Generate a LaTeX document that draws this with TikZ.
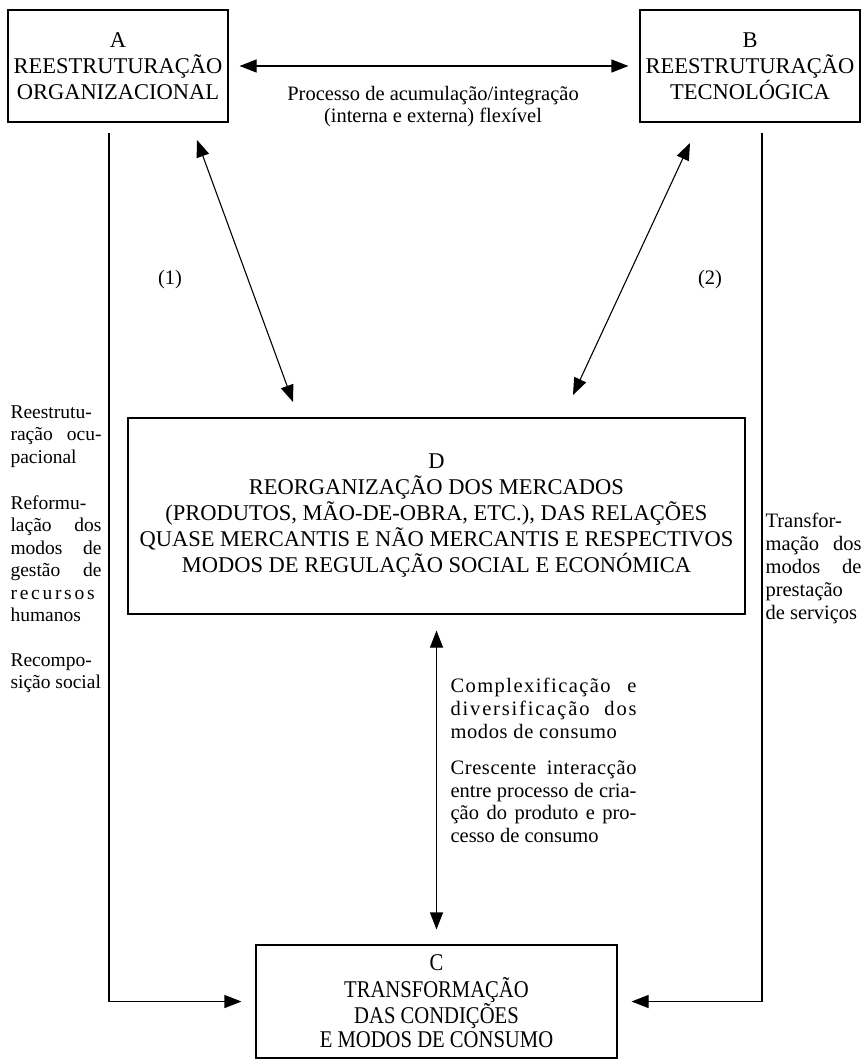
\documentclass[tikz,border=0pt]{standalone}
\usepackage{fontspec}
\setmainfont{Liberation Serif}
\newfontfamily\condfont[FakeStretch=0.86]{Liberation Serif}
\usetikzlibrary{arrows.meta}
\newcommand{\boxfont}{\fontsize{22.5}{26}\selectfont}
\newcommand{\sidefont}{\fontsize{20.5}{22.8}\selectfont}
\newcommand{\leftfont}{\fontsize{19.5}{22.5}\selectfont}
\newcommand{\cfont}{\condfont\fontsize{24}{24}\selectfont}
\newcommand{\spread}[2]{{\addfontfeature{LetterSpace=#1}#2}}

\begin{document}
\begin{tikzpicture}[x=1pt,y=-1pt,line width=1.1pt,
    >={Triangle[length=17pt,width=13pt]},
    blok/.style={draw,align=center,inner sep=0pt,font=\boxfont},
    side/.style={anchor=north west,inner sep=0pt,align=justify,font=\sidefont}]
  \useasboundingbox (0,0) rectangle (863,1061);
  % the four boxes
  \node[blok,minimum width=220pt,minimum height=112pt] (A) at (118,66)
    {A\\REESTRUTURAÇÃO\\ORGANIZACIONAL};
  \node[blok,minimum width=220pt,minimum height=112pt] (B) at (750,66)
    {B\\REESTRUTURAÇÃO\\TECNOLÓGICA};
  \node[blok,minimum width=617pt,minimum height=196pt] (D) at (436.5,516)
    {D\\REORGANIZAÇÃO DOS MERCADOS\\(PRODUTOS, MÃO-DE-OBRA, ETC.), DAS RELAÇÕES\\
     QUASE MERCANTIS E NÃO MERCANTIS E RESPECTIVOS\\MODOS DE REGULAÇÃO SOCIAL E ECONÓMICA};
  \node[blok,font=\cfont,minimum width=361pt,minimum height=113pt] (C) at (436.5,1001.5)
    {C\\[3pt]TRANSFORMAÇÃO\\DAS CONDIÇÕES\\E MODOS DE CONSUMO};
  % labels
  \node[font=\sidefont,align=center] (proc) at (433,106.5)
    {Processo de acumulação/integração\\(interna e externa) flexível};
  \node[font=\sidefont] (n1) at (170,280) {(1)};
  \node[font=\sidefont] (n2) at (710,280) {(2)};
  \node[side,font=\leftfont,text width=91pt] (left1) at (10,405)
    {Reestrutu-\linebreak ração ocu-\linebreak pacional};
  \node[side,font=\leftfont,text width=91pt] (left2) at (10,495)
    {Reformu-\linebreak lação dos\linebreak modos de\linebreak gestão de\linebreak
     \spread{14}{recursos}\linebreak humanos};
  \node[side,font=\leftfont,text width=91pt] (left3) at (10,653)
    {Recompo-\linebreak sição social};
  \node[side,text width=96pt] (right1) at (765,513)
    {Transfor-\linebreak mação dos\linebreak modos de\linebreak prestação\linebreak de serviços};
  \node[side,text width=186pt] (mid1) at (450,678)
    {\spread{7}{Complexificação e}\linebreak \spread{9}{diversificação dos}\linebreak
     \spread{3}{modos de consumo}};
  \node[side,text width=186pt] (mid2) at (450,760)
    {\spread{3}{Crescente interacção}\linebreak entre processo de cria-\linebreak
     ção do produto e pro-\linebreak cesso de consumo};
  % connectors
  \coordinate (a1) at (197,140);
  \coordinate (d1) at (293,402);
  \coordinate (b1) at (690,143);
  \coordinate (d2) at (573,395);
  \coordinate (l0) at (109,133);
  \coordinate (r0) at (762,133);
  \draw[<->,shorten <=11pt,shorten >=11pt] (A) to (B);
  \draw[<->] (a1) to (d1);
  \draw[<->] (b1) to (d2);
  \draw[->,shorten >=14pt] (l0) |- (C.west);
  \draw[->,shorten >=14pt] (r0) |- (C.east);
  \draw[<->,shorten <=16pt,shorten >=15pt] (D) to (C);
\end{tikzpicture}
\end{document}
